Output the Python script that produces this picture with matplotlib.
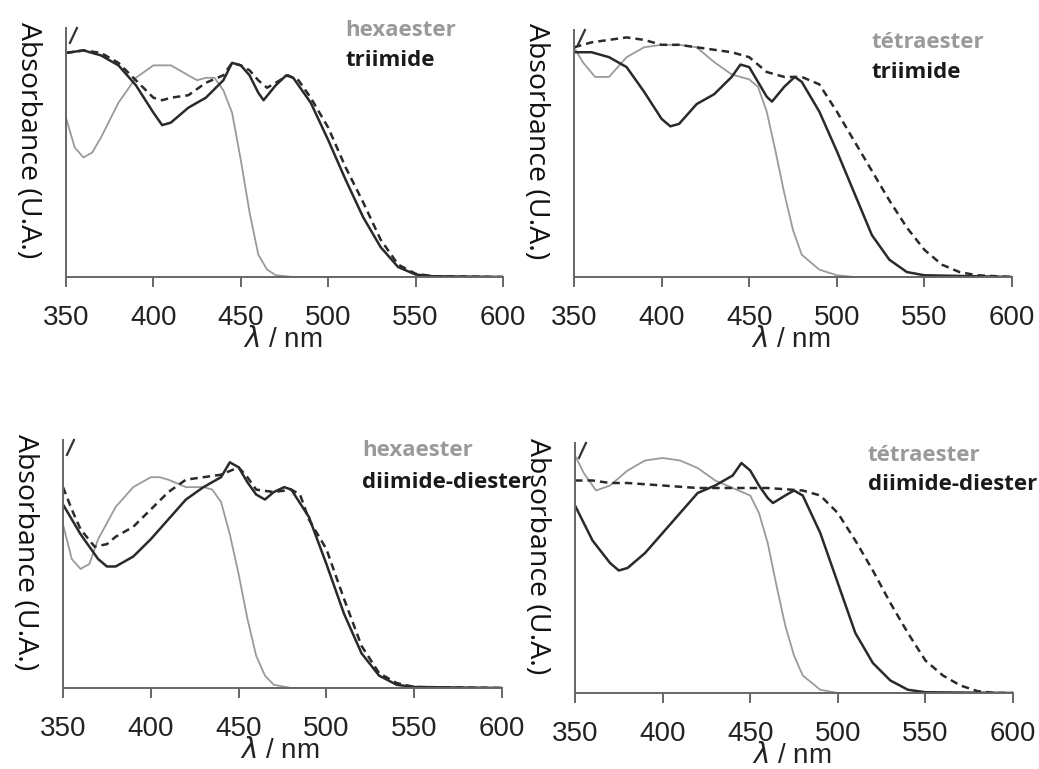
import matplotlib
matplotlib.use("Agg")
import matplotlib.pyplot as plt

# longueurs d'onde (nm) et absorbances (U.A.)
wl_a1 = [350, 360, 370, 380, 390, 400, 405, 410, 420, 430, 440, 445, 450, 455, 460, 463, 470, 476, 480, 490, 500, 510, 520, 530, 540, 550, 560, 600]
triimide_a1 = [90, 91, 89, 85, 77, 66, 61, 62, 68, 72, 79, 86, 85, 81, 74, 71, 77, 81, 80, 70, 55, 39, 24, 12, 4, 1, 0.3, 0]
wl_d1 = [350, 360, 370, 380, 390, 400, 405, 410, 420, 430, 440, 445, 450, 455, 460, 465, 470, 477, 483, 490, 500, 510, 520, 530, 540, 550, 560, 600]
dashed_1 = [90, 91, 90, 86, 79, 72, 71, 72, 73, 78, 81, 86, 85, 83, 79, 76, 78, 81, 79, 72, 60, 44, 30, 15, 5, 1.3, 0.3, 0]
wl_h1 = [350, 355, 360, 365, 370, 380, 390, 400, 405, 410, 420, 425, 430, 435, 440, 445, 450, 455, 460, 465, 470, 480, 600]
hexaester_1 = [64, 52, 48, 50, 56, 70, 80, 85, 85, 85, 81, 79, 80, 80, 75, 66, 47, 26, 9, 3, 0.7, 0, 0]

wl_a2 = [350, 360, 370, 380, 390, 400, 405, 410, 420, 430, 440, 445, 450, 455, 460, 463, 470, 476, 480, 490, 500, 510, 520, 530, 540, 550, 600]
triimide_a2 = [91, 91, 89, 85, 75, 64, 61, 62, 70, 74, 81, 86, 85, 79, 73, 71, 77, 81, 79, 67, 51, 34, 17, 7, 2, 0.7, 0]
wl_d2 = [350, 360, 370, 380, 390, 400, 410, 420, 430, 440, 450, 460, 470, 480, 490, 500, 510, 520, 530, 540, 550, 560, 570, 580, 600]
dashed_2 = [93, 95, 96, 97, 96, 94, 94, 93, 92, 91, 89, 83, 81, 81, 78, 67, 55, 43, 31, 20, 11, 5, 2, 0.7, 0]
wl_t2 = [350, 355, 362, 370, 375, 380, 390, 400, 410, 420, 430, 440, 450, 455, 460, 465, 470, 475, 480, 490, 500, 510, 600]
tetraester_2 = [93, 87, 81, 81, 85, 89, 93, 94, 94, 93, 87, 82, 80, 77, 67, 51, 34, 19, 9, 3, 0.7, 0, 0]

wl_b3 = [350, 360, 370, 375, 380, 390, 400, 410, 420, 430, 440, 445, 450, 455, 460, 465, 470, 476, 480, 490, 500, 510, 520, 530, 540, 550, 600]
diimide_3 = [74, 62, 52, 49, 49, 53, 60, 68, 76, 81, 85, 91, 89, 83, 78, 76, 79, 81, 80, 69, 50, 30, 14, 5, 1.3, 0.4, 0]
wl_d3 = [350, 355, 360, 368, 375, 380, 390, 400, 410, 420, 430, 440, 450, 455, 460, 470, 480, 485, 490, 500, 510, 520, 530, 540, 550, 600]
dashed_3 = [81, 72, 64, 57, 58, 61, 65, 72, 79, 84, 85, 86, 89, 85, 80, 79, 80, 78, 68, 56, 36, 17, 6, 2, 0.4, 0]
wl_h3 = [350, 355, 360, 365, 370, 380, 390, 400, 405, 410, 420, 430, 435, 440, 445, 450, 455, 460, 465, 470, 480, 600]
hexaester_3 = [66, 52, 48, 50, 60, 73, 81, 85, 85, 84, 81, 81, 80, 75, 62, 46, 28, 13, 5, 1.3, 0, 0]

wl_b4 = [350, 360, 370, 375, 380, 390, 400, 410, 420, 430, 440, 445, 450, 455, 460, 463, 470, 475, 480, 490, 500, 510, 520, 530, 540, 550, 600]
diimide_4 = [75, 61, 52, 49, 50, 56, 64, 72, 80, 83, 87, 92, 89, 83, 78, 76, 79, 81, 79, 64, 44, 24, 12, 5, 1.3, 0.3, 0]
wl_d4 = [350, 360, 370, 380, 400, 420, 440, 460, 480, 490, 500, 510, 520, 530, 540, 550, 560, 570, 580, 590, 600]
dashed_4 = [85, 85, 84, 84, 83, 82, 82, 82, 81, 79, 72, 61, 49, 36, 24, 13, 7, 3, 0.7, 0, 0]
wl_t4 = [350, 355, 362, 370, 380, 390, 400, 410, 420, 430, 440, 450, 455, 460, 465, 470, 475, 480, 490, 500, 600]
tetraester_4 = [95, 88, 81, 83, 89, 93, 94, 93, 90, 85, 82, 79, 72, 60, 43, 27, 15, 7, 1.3, 0, 0]

xticks = [350, 400, 450, 500, 550, 600]

fig = plt.figure(figsize=(10.39, 7.69), dpi=100)
W, H = 1039, 769

# (gauche, bas, droite, haut) en pixels
boxes = [(66, 277, 503, 28), (574, 277, 1012, 30), (63, 688, 502, 440), (575, 693, 1013, 443)]
panels = [
    (wl_h1, hexaester_1, wl_a1, triimide_a1, wl_d1, dashed_1, "hexaester", "triimide", (345, 30, 60)),
    (wl_t2, tetraester_2, wl_a2, triimide_a2, wl_d2, dashed_2, "tétraester", "triimide", (872, 42, 72)),
    (wl_h3, hexaester_3, wl_b3, diimide_3, wl_d3, dashed_3, "hexaester", "diimide-diester", (362, 450, 482)),
    (wl_t4, tetraester_4, wl_b4, diimide_4, wl_d4, dashed_4, "tétraester", "diimide-diester", (868, 455, 485)),
]

for (l, b, r, t), p in zip(boxes, panels):
    wg, g, wk, k, wd, d, lab1, lab2, (tx, ty1, ty2) = p
    ax = fig.add_axes([l / W, 1 - b / H, (r - l) / W, (b - t) / H])
    ax.plot(wg, g, color="#9a9a9a", lw=1.3, solid_joinstyle="round")
    ax.plot(wk, k, color="#2a2a2a", lw=1.8, solid_joinstyle="round")
    ax.plot(wd, d, color="#2a2a2a", lw=1.8, ls=(0, (3, 2)))
    ax.set_xlim(350, 600)
    ax.set_ylim(0, 100)
    ax.spines["top"].set_visible(False)
    ax.spines["right"].set_visible(False)
    for s in ("left", "bottom"):
        ax.spines[s].set_color("#666666")
        ax.spines[s].set_linewidth(1.4)
    ax.set_yticks([])
    ax.set_xticks(xticks)
    ax.tick_params(axis="x", direction="out", length=7, width=1.4, color="#666666",
                   pad=13, labelsize=20, labelcolor="#222222")
    for lbl in ax.get_xticklabels():
        lbl.set_fontfamily("Liberation Sans")
    ax.plot([0.009, 0.025], [0.94, 1.0], transform=ax.transAxes, color="#333333",
            lw=1.6, clip_on=False)
    # légende en texte
    fig.text(tx / W, 1 - ty1 / H, lab1, color="#9a9a9a", fontsize=16, fontweight="bold",
             fontfamily="Open Sans", va="center", ha="left")
    fig.text(tx / W, 1 - ty2 / H, lab2, color="#1a1a1a", fontsize=16, fontweight="bold",
             fontfamily="Open Sans", va="center", ha="left")
    # étiquette d'axe y
    fig.text((l - 38) / W, 1 - ((b + t) / 2 - 12) / H, "Absorbance (U.A.)", rotation=-90,
             fontsize=20.5, fontfamily="Open Sans", va="center", ha="center", color="#111111")
    # étiquette d'axe x
    fig.text((l + 217) / W, 1 - (b + 63) / H, r"$\lambda$ / nm", fontsize=20,
             fontfamily="Liberation Sans", va="center", ha="center", color="#222222")

fig.savefig("out.png", dpi=100, facecolor="white")
